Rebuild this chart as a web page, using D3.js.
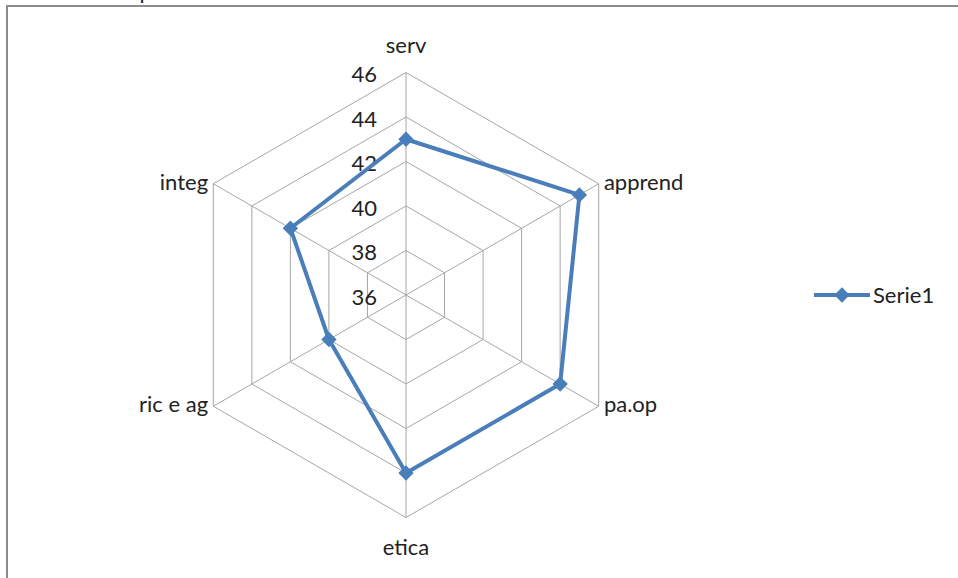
<!DOCTYPE html>
<html>
<head>
<meta charset="utf-8">
<script src="https://cdn.jsdelivr.net/npm/d3@7"></script>
<style>
  body { margin: 0; background: #fff; }
  svg text { font-family: Lato, "Open Sans", sans-serif; fill: #222; }
</style>
</head>
<body>
<div id="chart"></div>
<script>
// data
const categories = ["serv", "apprend", "pa.op", "etica", "ric e ag", "integ"];
const serie1 = [43, 45, 44, 44, 40, 42];
const tickValues = [36, 38, 40, 42, 44, 46];
const seriesName = "Serie1";

const width = 958;
const height = 578;
const cx = 406;
const cy = 295;
const radius = 222.5;
const blue = "#4a7ebb";

const svg = d3.select("#chart")
    .append("svg")
    .attr("width", width)
    .attr("height", height);

// cut-off title at the very top
svg.append("text")
    .attr("x", 40)
    .attr("y", -1)
    .style("font-size", "22px")
    .text("Grafico Sup");

// chart frame
svg.append("rect")
    .attr("x", 7)
    .attr("y", 6)
    .attr("width", 1000)
    .attr("height", 600)
    .attr("fill", "none")
    .attr("stroke", "#8c8c8c")
    .attr("stroke-width", 2);

const rScale = d3.scaleLinear()
    .domain([36, 46])
    .range([0, radius]);

const angle = d3.scaleLinear()
    .domain([0, categories.length])
    .range([0, 2 * Math.PI]);

const g = svg.append("g")
    .attr("transform", `translate(${cx},${cy})`);

// rings
const ring = d3.lineRadial()
    .angle((d, i) => angle(i))
    .radius(d => rScale(d))
    .curve(d3.curveLinearClosed);

g.selectAll(".ring")
    .data(tickValues.slice(1))
    .enter().append("path")
    .attr("class", "ring")
    .attr("d", v => ring(categories.map(() => v)))
    .attr("fill", "none")
    .attr("stroke", "#a6a6a6")
    .attr("stroke-width", 1);

// spokes
g.selectAll(".spoke")
    .data(categories)
    .enter().append("line")
    .attr("class", "spoke")
    .attr("x1", 0)
    .attr("y1", 0)
    .attr("x2", (d, i) => rScale(46) * Math.sin(angle(i)))
    .attr("y2", (d, i) => -rScale(46) * Math.cos(angle(i)))
    .attr("stroke", "#a6a6a6")
    .attr("stroke-width", 1);

// tick labels along the top spoke
g.selectAll(".tick")
    .data(tickValues)
    .enter().append("text")
    .attr("class", "tick")
    .attr("x", -29)
    .attr("y", d => -rScale(d))
    .attr("dy", "0.45em")
    .attr("text-anchor", "end")
    .style("font-size", "22px")
    .text(d => d);

// category labels
g.selectAll(".cat")
    .data(categories)
    .enter().append("text")
    .attr("class", "cat")
    .attr("x", (d, i) => {
        const s = Math.sin(angle(i));
        return (rScale(46) + 6) * s;
    })
    .attr("y", (d, i) => {
        const c = Math.cos(angle(i));
        if (Math.abs(c) > 0.99) return c > 0 ? -rScale(46) - 20 : rScale(46) + 37;
        return -rScale(46) * c + 6;
    })
    .attr("text-anchor", (d, i) => {
        const s = Math.sin(angle(i));
        if (Math.abs(s) < 0.01) return "middle";
        return s > 0 ? "start" : "end";
    })
    .style("font-size", "22px")
    .text(d => d);

// series line
const line = d3.lineRadial()
    .angle((d, i) => angle(i))
    .radius(d => rScale(d))
    .curve(d3.curveLinearClosed);

g.append("path")
    .datum(serie1)
    .attr("d", line)
    .attr("fill", "none")
    .attr("stroke", blue)
    .attr("stroke-width", 4)
    .attr("stroke-linejoin", "round");

const diamond = d3.symbol().type(d3.symbolDiamond2).size(150);

g.selectAll(".dot")
    .data(serie1)
    .enter().append("path")
    .attr("class", "dot")
    .attr("d", diamond)
    .attr("transform", (d, i) => `translate(${rScale(d) * Math.sin(angle(i))},${-rScale(d) * Math.cos(angle(i))})`)
    .attr("fill", blue);

// legend
const legend = svg.append("g")
    .attr("transform", "translate(814,295)");

legend.append("line")
    .attr("x1", 0)
    .attr("x2", 56)
    .attr("y1", 0)
    .attr("y2", 0)
    .attr("stroke", blue)
    .attr("stroke-width", 4);

legend.append("path")
    .attr("d", diamond)
    .attr("transform", "translate(28,0)")
    .attr("fill", blue);

legend.append("text")
    .attr("x", 59)
    .attr("y", 8)
    .style("font-size", "22px")
    .text(seriesName);
</script>
</body>
</html>
